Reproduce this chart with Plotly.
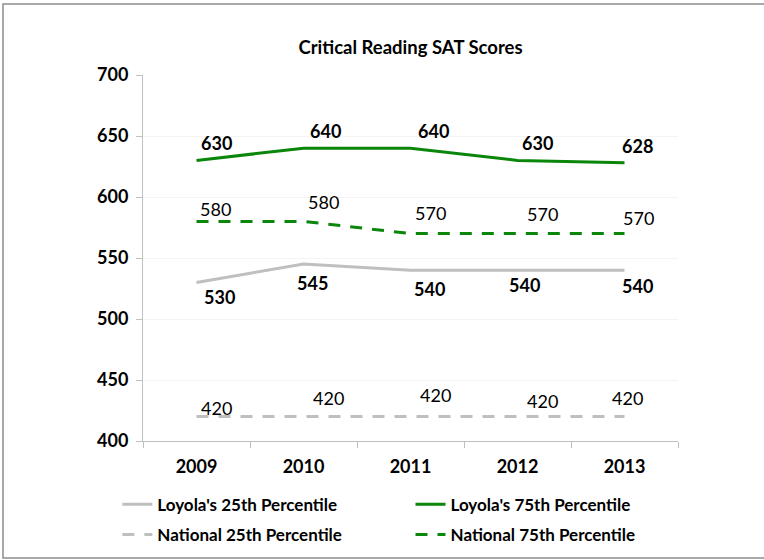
import plotly.graph_objects as go

years = ["2009", "2010", "2011", "2012", "2013"]
loyola_25 = [530, 545, 540, 540, 540]
loyola_75 = [630, 640, 640, 630, 628]
national_25 = [420, 420, 420, 420, 420]
national_75 = [580, 580, 570, 570, 570]

FONT = "Lato"
GREEN = "#0A860A"
GRAY = "#BFBFBF"

fig = go.Figure()

series = [
    ("Loyola's 25th Percentile", loyola_25, GRAY, "solid", "legend"),
    ("Loyola's 75th Percentile", loyola_75, GREEN, "solid", "legend2"),
    ("National 25th Percentile", national_25, GRAY, "12px,10px", "legend3"),
    ("National 75th Percentile", national_75, GREEN, "12px,10px", "legend4"),
]
for name, vals, col, dash, lg in series:
    fig.add_trace(go.Scatter(
        x=years, y=vals, name=name, mode="lines",
        line=dict(color=col, width=3, dash=dash),
        legend=lg, hoverinfo="skip",
    ))

# label styling: (values, bold, per-point x offsets, per-point y offsets)
label_specs = [
    (loyola_75, True, [20, 22, 23, 20, 13], [17, 17, 17, 17, 17]),
    (national_75, False, [19, 20, 20, 25, 14], [12, 19, 21, 20, 16]),
    (loyola_25, True, [23, 9, 19, 7, 13], [-15, -19, -19, -15, -16]),
    (national_25, False, [20, 25, 25, 25, 3], [9, 19, 22, 16, 19]),
]
for vals, bold, dxs, dys in label_specs:
    for i, (v, dx, dy) in enumerate(zip(vals, dxs, dys)):
        # category axis: annotation x given as category index
        fig.add_annotation(
            x=i, y=v, xref="x", yref="y", text=str(v),
            showarrow=False, xshift=dx, yshift=dy,
            font=dict(family=FONT, size=18, color="#000000",
                      weight="bold" if bold else "normal"),
        )

# outer chart border
fig.add_shape(type="rect", xref="paper", yref="paper",
              x0=-0.2617, x1=1.6, y0=-0.3197, y1=1.194,
              line=dict(color="#8C8C8C", width=1.5), fillcolor="rgba(0,0,0,0)",
              layer="below")

legend_common = dict(orientation="v",
                     font=dict(family=FONT, size=17, color="#000000", weight="bold"),
                     bgcolor="rgba(0,0,0,0)", itemwidth=30, xanchor="left", yanchor="middle",
                     tracegroupgap=0)
fig.update_layout(
    width=764, height=560,
    margin=dict(l=143, r=86, t=75, b=119, autoexpand=False),
    paper_bgcolor="white", plot_bgcolor="white",
    title=dict(text="Critical Reading SAT Scores", x=0.5, xref="paper",
               y=(560 - 48) / 560, yanchor="middle",
               font=dict(family=FONT, size=18.5, color="#000000", weight="bold")),
    xaxis=dict(type="category", categoryarray=years, range=[-0.5, len(years) - 0.5],
               showgrid=False, showline=True,
               linecolor="#BFBFBF", linewidth=1, ticks="outside", tickson="boundaries",
               ticklen=6, tickcolor="#BFBFBF", automargin=False, ticklabelstandoff=9,
               tickfont=dict(family=FONT, size=18, color="#000000", weight="bold"),
               fixedrange=True),
    yaxis=dict(range=[400, 700], dtick=50, tick0=400, showgrid=True, gridcolor="#F4F4F4",
               showline=True, linecolor="#BFBFBF", linewidth=1, ticks="outside",
               ticklen=6, tickcolor="#BFBFBF", zeroline=False, automargin=False,
               ticklabelstandoff=4,
               tickfont=dict(family=FONT, size=18, color="#000000", weight="bold"),
               fixedrange=True),
    legend=dict(x=-0.048, y=-0.174, **legend_common),
    legend2=dict(x=0.50, y=-0.174, **legend_common),
    legend3=dict(x=-0.048, y=-0.257, **legend_common),
    legend4=dict(x=0.50, y=-0.257, **legend_common),
    showlegend=True,
)

fig.write_html("out.html", config={"displayModeBar": False},
               post_script="document.body.style.margin='0px';")
